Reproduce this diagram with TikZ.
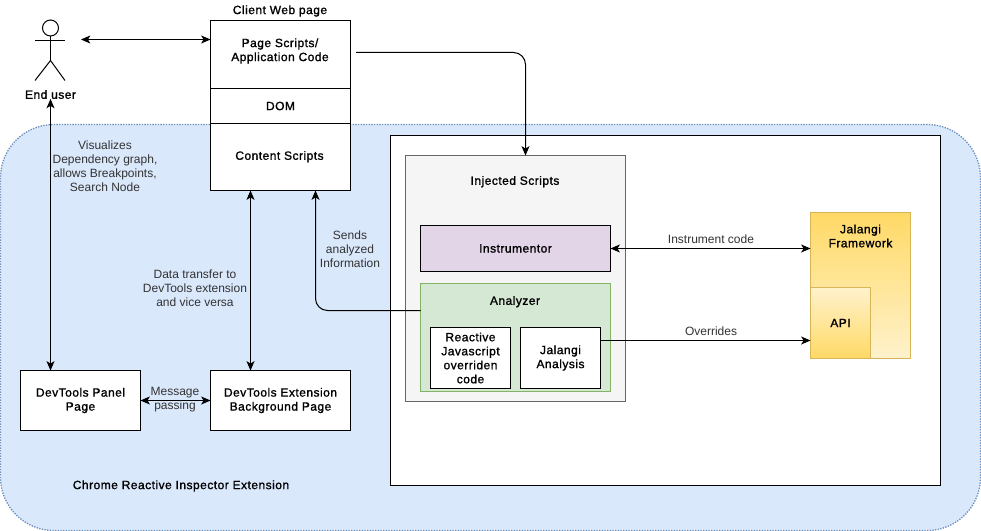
\documentclass[tikz,border=0pt]{standalone}
\usepackage{fontspec}
\setmainfont{Liberation Sans}
\newfontfamily\medfont[FakeBold=1.2,LetterSpace=4]{Liberation Sans}
\usetikzlibrary{arrows.meta, positioning}
\definecolor{regionfill}{HTML}{DAE8FC}
\definecolor{regionline}{HTML}{6C8EBF}
\definecolor{greyfill}{HTML}{F5F5F5}
\definecolor{greyline}{HTML}{666666}
\definecolor{purplefill}{HTML}{E1D5E7}
\definecolor{greenfill}{HTML}{D5E8D4}
\definecolor{greenline}{HTML}{82B366}
\definecolor{yellowlight}{HTML}{FFF2CC}
\definecolor{yellowdark}{HTML}{FFD966}
\definecolor{yellowline}{HTML}{D6B656}
\definecolor{labeltext}{HTML}{333333}

\begin{document}
\begin{tikzpicture}[
  x=.75pt, y=-.75pt,
  >={Stealth[length=7pt,width=6pt,inset=1.8pt]},
  line width=.75pt,
  every node/.style={font=\fontsize{9}{10.5}\selectfont, inner sep=0pt, outer sep=0pt, align=center},
  box/.style={draw, fill=white, anchor=north west},
  title/.style={font=\fontsize{9}{10.5}\selectfont\medfont},
  label/.style={text=labeltext},
  link/.style={<->},
  rounded/.style={rounded corners=9pt}]

  \useasboundingbox (0,0) rectangle (981,531);

  % extension region
  \node[anchor=north west, draw=regionline, fill=regionfill, line width=1pt, dash pattern=on 1pt off 1pt, rounded corners=40pt,
    minimum width=735pt, minimum height=304.5pt] (region) at (.5,124.5) {};
  \node[anchor=north west, draw, fill=white, minimum width=412.5pt, minimum height=262.5pt] (inner) at (390.5,135.5) {};

  % end user
  \node[circle, draw, minimum size=12pt] (head) at (50.5,28) {};
  \coordinate (hip) at (50.5,60.5);
  \draw (head.south) -- (hip);
  \draw (35,40.5) -- (65,40.5);
  \draw (35,80.5) -- (hip) -- (65,80.5);
  \node[title] (user) at (50.5,94.5) {End user};
  \coordinate (userside) at (81,39.5);

  % client web page
  \node[title] (client) at (280,11) {Client Web page};
  \node[box, minimum width=105pt, minimum height=51pt] (page) at (210.5,20.5) {};
  \node[title] (pagelabel) at (280,51) {Page Scripts/\\Application Code};
  \node[box, title, minimum width=105pt, minimum height=26.25pt] (dom) at (210.5,88.5) {DOM};
  \node[box, minimum width=105pt, minimum height=50.25pt] (content) at (210.5,123.5) {};
  \node[title] (contentlabel) at (279.5,156.7) {Content Scripts};
  \coordinate (pageout) at (356,52.5);

  % devtools
  \node[box, title, minimum width=90pt, minimum height=45pt] (panel) at (20.5,370.5) {DevTools Panel\\Page};
  \node[box, title, minimum width=105pt, minimum height=45pt] (background) at (210.5,370.5) {DevTools Extension\\Background Page};

  % injected scripts
  \node[anchor=north west, draw=greyline, fill=greyfill, minimum width=165pt, minimum height=184.5pt] (injected) at (405.5,155.5) {};
  \node[title] (injectedlabel) at (515,181.7) {Injected Scripts};
  \node[anchor=north west, draw, fill=purplefill, title, minimum width=142.5pt, minimum height=34.5pt] (instrumentor) at (420.5,225.5) {Instrumentor};
  \node[anchor=north west, draw=greenline, fill=greenfill, minimum width=142.5pt, minimum height=81pt] (analyzer) at (420.5,283.5) {};
  \node[title] (analyzerlabel) at (515,301.7) {Analyzer};
  \node[box, title, minimum width=60pt, minimum height=45.75pt] (reactive) at (430.5,327.5) {Reactive\\Javascript\\overriden\\code};
  \node[box, title, minimum width=60pt, minimum height=45.75pt] (analysis) at (520.5,327.5) {Jalangi\\Analysis};

  % jalangi
  \node[anchor=north west, draw=yellowline, top color=yellowdark, bottom color=yellowlight, minimum width=75pt, minimum height=109.5pt] (framework) at (810.5,212.5) {};
  \node[title] (frameworklabel) at (860.5,236) {Jalangi\\Framework};
  \node[anchor=north west, draw=yellowline, top color=yellowlight, bottom color=yellowdark, title, minimum width=45pt, minimum height=53.25pt] (api) at (810.5,287.5) {API};

  % connectors
  \coordinate (dataline) at (250.5,280);
  \coordinate (sendline) at (315.5,250);
  \coordinate (injectline) at (525.5,100);
  \draw[link] (userside) -- (userside -| page.west);
  \draw[->, rounded] (pageout) -- (pageout -| injectline) -- (injectline |- injected.north);
  \draw[link] (user.south -| head) -- (head |- panel.north);
  \draw[link] (dataline |- content.south) -- (dataline |- background.north);
  \draw[link] (panel.east) -- (background.west);
  \draw[->, rounded] (analyzer.west |- 420,310.5) -- (sendline |- 420,310.5) -- (sendline |- content.south);
  \draw[link] (instrumentor.east) -- (instrumentor.east -| framework.west);
  \draw[->] (analysis.east |- 600,340.5) -- (framework.west |- 600,340.5);

  % labels
  \node[label] (visualizes) at (105,166) {Visualizes\\Dependency graph,\\allows Breakpoints,\\Search Node};
  \node[label] (transfer) at (195,288) {Data transfer to\\DevTools extension\\and vice versa};
  \node[label] (sends) at (350,249) {Sends\\analyzed\\Information};
  \node[label] (passing) at (175,400) {Message\\passing};
  \node[label] (instrumentcode) at (711,239) {Instrument code};
  \node[label] (overrides) at (711,331) {Overrides};
  \node[title] (extension) at (181,486) {Chrome Reactive Inspector Extension};
\end{tikzpicture}
\end{document}
